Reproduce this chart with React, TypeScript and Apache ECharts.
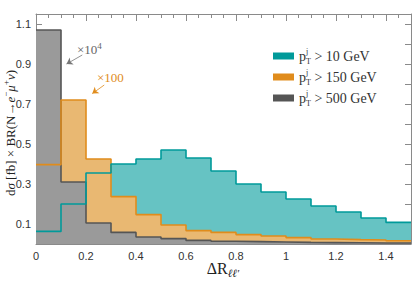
import React, { useEffect, useRef } from "react";
import * as echarts from "echarts";

const binStarts = [0, 0.1, 0.2, 0.3, 0.4, 0.5, 0.6, 0.7, 0.8, 0.9, 1.0, 1.1, 1.2, 1.3, 1.4];
const binEnd = 1.5;
const pt10 = [0.063, 0.2, 0.355, 0.4, 0.425, 0.47, 0.43, 0.365, 0.3, 0.26, 0.225, 0.19, 0.16, 0.13, 0.108];
const pt150 = [0.397, 0.72, 0.425, 0.237, 0.147, 0.095, 0.067, 0.058, 0.047, 0.04, 0.032, 0.025, 0.022, 0.02, 0.016];
const pt500 = [1.07, 0.31, 0.105, 0.058, 0.035, 0.027, 0.018, 0.014, 0.012, 0.01, 0.008, 0.007, 0.006, 0.005, 0.005];
const seriesNames = ["pTj > 10 GeV", "pTj > 150 GeV", "pTj > 500 GeV"];
const legendCuts = ["10", "150", "500"];
const xTickLabels = ["0", "0.2", "0.4", "0.6", "0.8", "1", "1.2", "1.4"];
const yTickLabels = ["0.1", "0.3", "0.5", "0.7", "0.9", "1.1"];

const lineColors = ["#009a9a", "#e08c1c", "#555555"];
const fillColors = ["#66c3c3", "#e9b872", "#9a9a9a"];

function toSteps(vals: number[]) {
  const d: number[][] = vals.map((v, i) => [binStarts[i], v]);
  d.push([binEnd, vals[vals.length - 1]]);
  return d;
}

export default function App() {
  const ref = useRef<HTMLDivElement>(null);
  useEffect(() => {
    document.body.style.margin = "0";
    const chart = echarts.init(ref.current!, null, { renderer: "svg" });
    const allVals = [pt10, pt150, pt500];
    const fills = allVals.map((vals, i) => ({
      name: "fill" + i,
      type: "line",
      step: "end",
      data: toSteps(vals),
      showSymbol: false,
      silent: true,
      lineStyle: { width: 0, opacity: 0 },
      itemStyle: { color: fillColors[i] },
      areaStyle: { color: fillColors[i], opacity: 1 },
      z: 2 + i,
    }));
    const lines = [2, 1, 0].map((i) => ({
      name: seriesNames[i],
      type: "line",
      step: "end",
      data: toSteps(allVals[i]),
      showSymbol: false,
      lineStyle: { width: 1.6, color: lineColors[i] },
      itemStyle: { color: lineColors[i] },
      z: 10 + (2 - i),
    }));
    const tickColor = "#8a8a8a";
    const xFmt = (v: number) => {
      const k = Math.round(v * 10);
      if (Math.abs(v * 10 - k) > 1e-6 || k % 2 !== 0) return "";
      return xTickLabels[k / 2] ?? "";
    };
    const yFmt = (v: number) => {
      const k = Math.round(v * 10);
      if (Math.abs(v * 10 - k) > 1e-6 || k % 2 !== 1) return "";
      return yTickLabels[(k - 1) / 2] ?? "";
    };
    const axisCommonX = {
      type: "value",
      min: 0,
      max: 1.5,
      interval: 0.2,
      axisLine: { show: true, onZero: false, lineStyle: { color: tickColor, width: 1 } },
      axisTick: { show: true, inside: true, length: 7, lineStyle: { color: tickColor } },
      minorTick: { show: true, splitNumber: 4, length: 4, lineStyle: { color: tickColor } },
      splitLine: { show: false },
    };
    const axisCommonY = {
      type: "value",
      min: 0,
      max: 1.15,
      interval: 0.1,
      axisLine: { show: true, onZero: false, lineStyle: { color: tickColor, width: 1 } },
      axisTick: { show: true, inside: true, length: 6, lineStyle: { color: tickColor } },
      splitLine: { show: false },
    };
    const serif = "Liberation Serif";
    chart.setOption({
      animation: false,
      grid: { left: 36, right: 2, top: 14, bottom: 37, containLabel: false, outerBoundsMode: "none" },
      xAxis: [
        {
          ...axisCommonX,
          position: "bottom",
          axisLabel: { formatter: xFmt, color: "#333", fontFamily: "Liberation Sans", fontSize: 11, margin: 6 },
        },
        { ...axisCommonX, position: "top", axisLabel: { show: false } },
      ],
      yAxis: [
        {
          ...axisCommonY,
          position: "left",
          axisLabel: { formatter: yFmt, color: "#333", fontFamily: "Liberation Sans", fontSize: 11, margin: 5 },
        },
        { ...axisCommonY, position: "right", axisLabel: { show: false } },
      ],
      legend: {
        orient: "vertical",
        left: 268,
        top: 42,
        icon: "rect",
        itemWidth: 21,
        itemHeight: 7,
        itemGap: 3,
        selectedMode: false,
        data: [0, 1, 2].map((i) => ({ name: seriesNames[i], itemStyle: { color: lineColors[i], borderWidth: 0 } })),
        formatter: (name: string) => {
          const idx = seriesNames.indexOf(name);
          return "{p|p}{j|j}{t|T}{r| > " + legendCuts[idx] + " GeV}";
        },
        textStyle: {
          rich: {
            p: { fontFamily: serif, fontSize: 14, color: "#333", lineHeight: 18 },
            j: { fontFamily: serif, fontSize: 8, color: "#333", width: 0, verticalAlign: "top", lineHeight: 9 },
            t: { fontFamily: serif, fontSize: 8, color: "#333", verticalAlign: "bottom", lineHeight: 9 },
            r: { fontFamily: serif, fontSize: 14, color: "#333", lineHeight: 18 },
          },
        },
      },
      graphic: [
        {
          type: "text",
          x: 10,
          y: 133,
          rotation: Math.PI / 2,
          style: {
            text: "d{i|σ} [fb] × BR(N→{i|e}{s|−}{i|μ}{s|+}{i|ν})",
            fontFamily: serif,
            fontSize: 13,
            fill: "#222",
            align: "center",
            verticalAlign: "middle",
            lineHeight: 18,
            rich: {
              i: { fontFamily: serif, fontSize: 13, fontStyle: "italic", fill: "#222", lineHeight: 18 },
              s: { fontFamily: serif, fontSize: 9, fill: "#222", verticalAlign: "top", lineHeight: 10 },
            },
          },
        },
        {
          type: "text",
          x: 223,
          y: 268,
          style: {
            text: "{a|ΔR}{b|ℓℓ′}",
            align: "center",
            verticalAlign: "middle",
            rich: {
              a: { fontFamily: serif, fontSize: 16, fill: "#222", lineHeight: 20 },
              b: { fontFamily: serif, fontSize: 11, fontStyle: "italic", fill: "#222", verticalAlign: "bottom", lineHeight: 14 },
            },
          },
        },
        {
          type: "text",
          left: 77,
          top: 41,
          style: {
            text: "{a|×10}{b|4}",
            rich: {
              a: { fontFamily: serif, fontSize: 13, fill: "#666", lineHeight: 16 },
              b: { fontFamily: serif, fontSize: 9, fill: "#666", verticalAlign: "top", lineHeight: 9 },
            },
          },
        },
        {
          type: "text",
          left: 97,
          top: 71,
          style: { text: "×100", fontFamily: serif, fontSize: 13, fill: "#e08c1c" },
        },
      ],
      series: [
        ...fills,
        ...lines,
        {
          name: "arrows",
          type: "line",
          data: [],
          silent: true,
          markLine: {
            silent: true,
            symbol: ["none", "arrow"],
            symbolSize: 6,
            label: { show: false },
            data: [
              [
                { coord: [0.185, 0.945], lineStyle: { color: "#777", width: 0.8, type: "solid" } },
                { coord: [0.122, 0.9] },
              ],
              [
                { coord: [0.273, 0.795], lineStyle: { color: "#e08c1c", width: 0.8, type: "solid" } },
                { coord: [0.225, 0.752] },
              ],
            ],
          },
        },
      ],
    });
    return () => chart.dispose();
  }, []);
  return <div ref={ref} style={{ width: 413, height: 281 }} />;
}
